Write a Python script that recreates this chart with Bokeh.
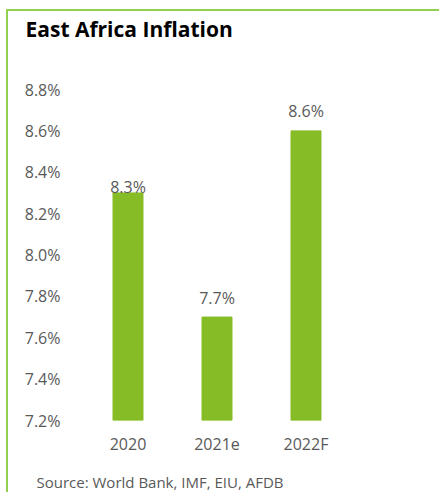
from bokeh.plotting import figure
from bokeh.models import ColumnDataSource, Title, PrintfTickFormatter, LabelSet, FactorRange
from bokeh.core.properties import value
from bokeh.embed import file_html
from bokeh.resources import INLINE

categories = ["2020", "2021e", "2022F"]
inflation = [8.3, 7.7, 8.6]
value_labels = ["8.3%", "7.7%", "8.6%"]
y_ticks = [7.2, 7.4, 7.6, 7.8, 8.0, 8.2, 8.4, 8.6, 8.8]
title_text = "East Africa Inflation"
source_text = "Source: World Bank, IMF, EIU, AFDB"

label_offsets = [-5, 8, 9]

src = ColumnDataSource(dict(cat=categories, val=inflation, lab=value_labels, off=label_offsets))

FONT = "Open Sans"
GREY = "#595959"

p = figure(width=433, height=483, x_range=FactorRange(*categories), y_range=(7.2, 8.8),
           output_backend="svg", toolbar_location=None,
           min_border_left=75, min_border_right=91, min_border_top=78, min_border_bottom=74)
p.styles = {"margin-left": "6px", "margin-top": "9px",
            "border-left": "2px solid #92d050", "border-top": "2px solid #92d050"}
p.outline_line_color = None
p.grid.grid_line_color = None
p.background_fill_color = "white"

p.vbar(x="cat", top="val", bottom=7.2, width=0.337, source=src, color="#86bc25")

labels = LabelSet(x="cat", y="val", text="lab", source=src, text_align="center",
                  text_baseline="bottom", y_offset="off", text_font=value(FONT),
                  text_font_size="16px", text_color=GREY)
p.add_layout(labels)

p.yaxis.ticker = y_ticks
p.yaxis.formatter = PrintfTickFormatter(format="%.1f%%")
for ax in (p.xaxis, p.yaxis):
    ax.axis_line_color = None
    ax.major_tick_line_color = None
    ax.minor_tick_line_color = None
    ax.major_tick_out = 0
    ax.major_tick_in = 0
    ax.major_label_text_font = FONT
    ax.major_label_text_font_size = "16px"
    ax.major_label_text_color = GREY
p.yaxis.major_label_standoff = 23
p.xaxis.major_label_standoff = 12

# above: spacer next to the frame, then the title
p.add_layout(Title(text=" ", text_font_size="1px", standoff=44), "above")
p.add_layout(Title(text=title_text, text_font=FONT, text_font_size="21px",
                   text_font_style="bold", text_color="black", align="left",
                   offset=-58, standoff=0), "above")
# below: axis, spacer, then the source note
p.add_layout(Title(text=" ", text_font_size="1px", standoff=9), "below")
p.add_layout(Title(text=source_text, text_font=FONT, text_font_size="15px",
                   text_font_style="normal", text_color=GREY, align="left",
                   offset=-47, standoff=0), "below")

open("out.html", "w").write(file_html(p, INLINE))
